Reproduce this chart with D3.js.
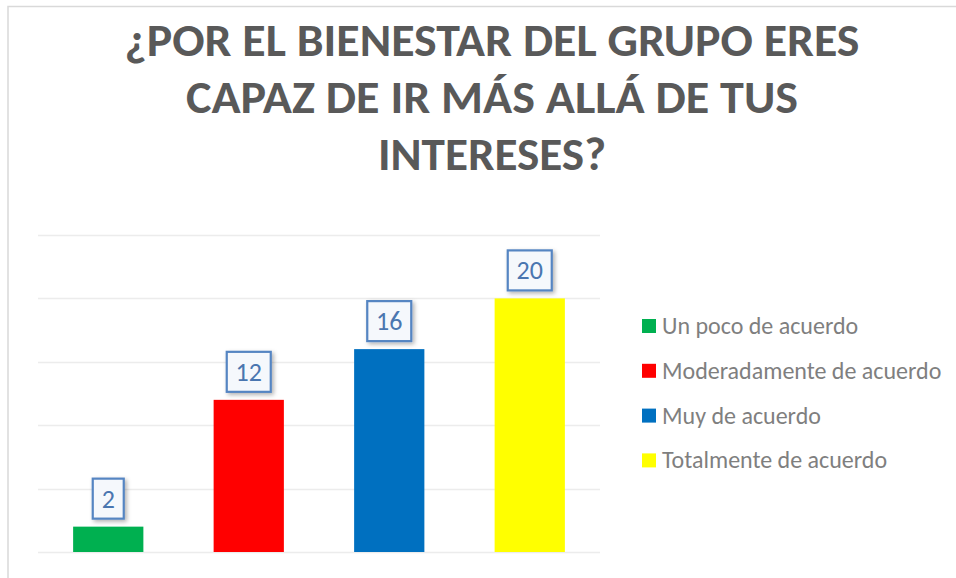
<!DOCTYPE html>
<html>
<head>
<meta charset="utf-8">
<script src="https://cdn.jsdelivr.net/npm/d3@7"></script>
<style>
  body { margin: 0; background: #fff; }
  svg { display: block; }
</style>
</head>
<body>
<svg width="956" height="578"></svg>
<script>
var titleLines = ["¿POR EL BIENESTAR DEL GRUPO ERES", "CAPAZ DE IR MÁS ALLÁ DE TUS", "INTERESES?"];
var categories = ["Un poco de acuerdo", "Moderadamente de acuerdo", "Muy de acuerdo", "Totalmente de acuerdo"];
var values = [2, 12, 16, 20];
var colors = ["#00b050", "#ff0000", "#0070c0", "#ffff00"];
var yTicks = [0, 5, 10, 15, 20, 25];

var svg = d3.select("svg");
var titleFont = "Carlito, Calibri, 'Liberation Sans Narrow', 'Arial Narrow', sans-serif";
var bodyFont = "Carlito, Calibri, 'Open Sans', sans-serif";

// chart area border
svg.append("path")
  .attr("d", "M8,580 V6.5 H960")
  .attr("fill", "none")
  .attr("stroke", "#d9d9d9")
  .attr("stroke-width", 1.5);

var defs = svg.append("defs");
var f = defs.append("filter").attr("id", "shadow").attr("x", "-30%").attr("y", "-30%").attr("width", "170%").attr("height", "170%");
f.append("feDropShadow").attr("dx", 2).attr("dy", 2).attr("stdDeviation", 2).attr("flood-color", "#000").attr("flood-opacity", 0.3);

var titleWidths = [735, 612, 228];
svg.append("g").selectAll("text")
  .data(titleLines)
  .enter().append("text")
    .attr("x", 492)
    .attr("y", function(d, i) { return 56 + i * 57; })
    .attr("text-anchor", "middle")
    .attr("fill", "#595959")
    .attr("textLength", function(d, i) { return titleWidths[i]; })
    .attr("lengthAdjust", "spacingAndGlyphs")
    .style("font", "bold 46px " + titleFont)
    .text(function(d) { return d; });

var x = d3.scaleBand().domain(categories).range([38, 600]).paddingInner(0.5).paddingOuter(0.25);
var y = d3.scaleLinear().domain([0, 25]).range([552, 235]);

var g = svg.append("g");
g.selectAll(".grid")
  .data(yTicks)
  .enter().append("line")
    .attr("class", "grid")
    .attr("x1", 38).attr("x2", 600)
    .attr("y1", function(d) { return Math.round(y(d)) + 0.5; })
    .attr("y2", function(d) { return Math.round(y(d)) + 0.5; })
    .attr("stroke", "#ececec")
    .attr("stroke-width", 1.5);

g.selectAll(".bar")
  .data(values)
  .enter().append("rect")
    .attr("class", "bar")
    .attr("x", function(d, i) { return x(categories[i]); })
    .attr("y", function(d) { return y(d); })
    .attr("width", x.bandwidth())
    .attr("height", function(d) { return y(0) - y(d); })
    .attr("fill", function(d, i) { return colors[i]; });

// data labels
var lab = g.selectAll(".lab")
  .data(values)
  .enter().append("g")
    .attr("class", "lab")
    .attr("transform", function(d, i) {
      return "translate(" + (x(categories[i]) + x.bandwidth() / 2) + "," + (y(d) - 8) + ")";
    });
lab.append("rect")
  .attr("x", function(d) { return String(d).length > 1 ? -22 : -15.5; })
  .attr("y", -40)
  .attr("width", function(d) { return String(d).length > 1 ? 44 : 31; })
  .attr("height", 40)
  .attr("fill", "#f5f8fc")
  .attr("stroke", "#5585c2")
  .attr("stroke-width", 2.2)
  .attr("filter", "url(#shadow)");
lab.append("text")
  .attr("y", -11)
  .attr("text-anchor", "middle")
  .attr("fill", "#4a76b0")
  .style("font", "26px " + bodyFont)
  .text(function(d) { return d; });

// legend
var leg = svg.append("g").selectAll("g")
  .data(categories)
  .enter().append("g")
    .attr("transform", function(d, i) { return "translate(642," + (326 + i * 44.8) + ")"; });
leg.append("rect")
  .attr("x", 0).attr("y", -7)
  .attr("width", 14).attr("height", 14)
  .attr("fill", function(d, i) { return colors[i]; });
leg.append("text")
  .attr("x", 20).attr("y", 8)
  .attr("fill", "#7f7f7f")
  .style("font", "24px " + bodyFont)
  .text(function(d) { return d; });
</script>
</body>
</html>
